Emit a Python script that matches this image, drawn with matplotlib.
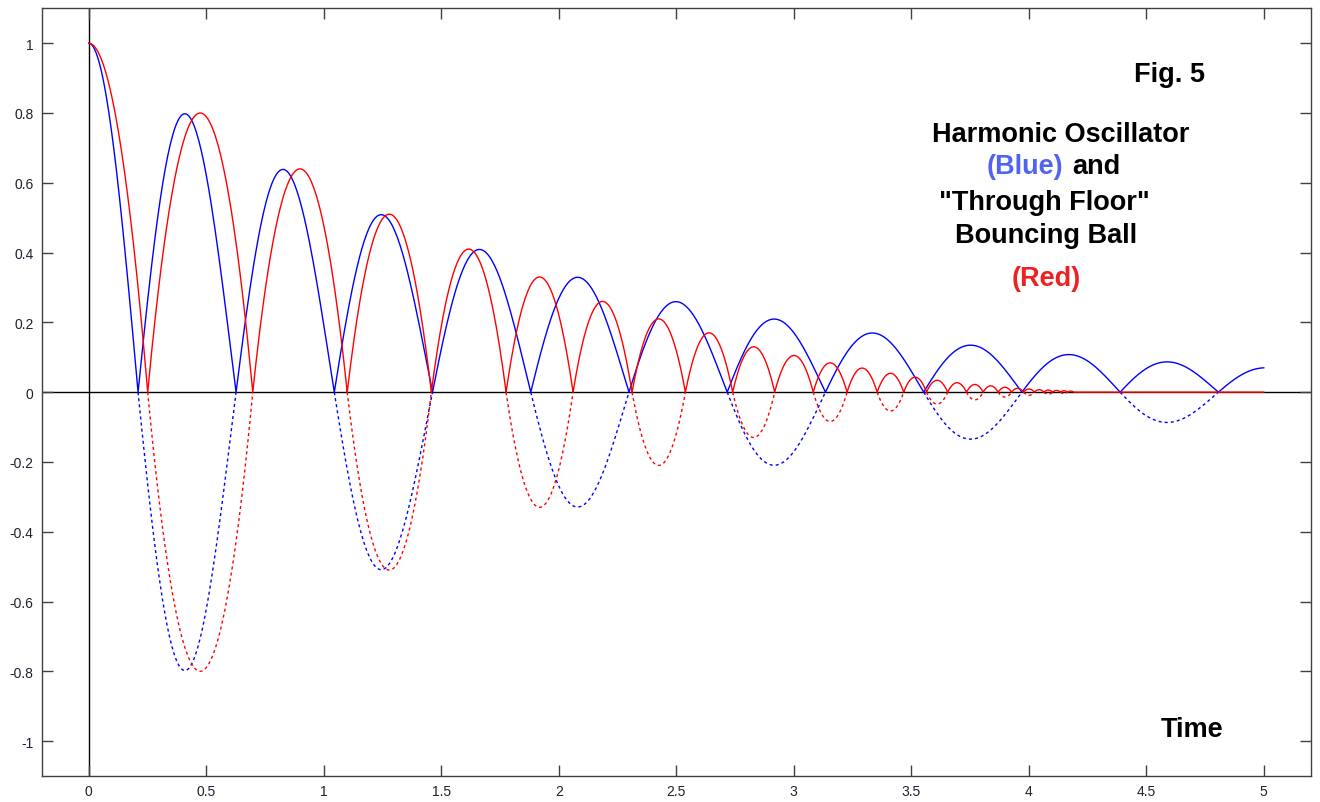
import numpy as np
import matplotlib

matplotlib.use("Agg")
import matplotlib.pyplot as plt

# harmonic oscillator: zero crossings and lobe heights of |x(t)|
blue_start = 1.0
blue_zeros = [0.21, 0.627, 1.045, 1.463, 1.881, 2.299, 2.717, 3.135, 3.553,
              3.971, 4.389, 4.807, 5.225]
blue_peaks = [0.80, 0.64, 0.51, 0.41, 0.33, 0.26, 0.21, 0.17, 0.135, 0.108,
              0.087, 0.07]

# bouncing ball: bounce times and apex heights between bounces
red_start = 1.0
red_bounces = [0.251, 0.698, 1.100, 1.458, 1.776, 2.061, 2.312, 2.539, 2.740,
               2.919, 3.083, 3.227, 3.355, 3.468, 3.565, 3.655, 3.735, 3.806,
               3.870, 3.927, 3.978, 4.024, 4.065, 4.102, 4.135, 4.165, 4.192]
red_peaks = [0.80, 0.64, 0.51, 0.41, 0.33, 0.26, 0.21, 0.17, 0.13, 0.105,
             0.084, 0.069, 0.054, 0.043, 0.034, 0.027, 0.022, 0.018, 0.014,
             0.011, 0.009, 0.007, 0.006, 0.005, 0.004, 0.003]

t_end = 5.0
x_ticks = [0, 0.5, 1, 1.5, 2, 2.5, 3, 3.5, 4, 4.5, 5]
x_labels = ["0", "0.5", "1", "1.5", "2", "2.5", "3", "3.5", "4", "4.5", "5"]
y_ticks = [-1, -0.8, -0.6, -0.4, -0.2, 0, 0.2, 0.4, 0.6, 0.8, 1]
y_labels = ["-1", "-0.8", "-0.6", "-0.4", "-0.2", "0", "0.2", "0.4", "0.6", "0.8", "1"]

BLUE = "#0000ff"
RED = "#ff0000"
DAMP = 0.223  # log decay of the oscillator per half period


def sine_lobe(a, b, h):
    t = np.linspace(a, min(b, t_end), 80)
    u = (t - a) / (b - a)
    # damping inside the half period pulls the crest slightly earlier
    return t, h * np.sin(np.pi * u) * np.exp(-DAMP * (u - 0.477))


def parabola_lobe(a, b, h):
    t = np.linspace(a, b, 80)
    mid, half = (a + b) / 2, (b - a) / 2
    return t, h * (1 - ((t - mid) / half) ** 2)


def build(first_t, first_y, edges, peaks, lobe):
    ts, ys, neg = [first_t], [first_y], []
    for i, h in enumerate(peaks):
        a, b = edges[i], edges[i + 1]
        if a >= t_end:
            break
        t, y = lobe(a, b, h)
        ts.append(t)
        ys.append(y)
        if i % 2 == 0:
            neg.append((t, -y))
    return np.concatenate(ts), np.concatenate(ys), neg


fig = plt.figure(figsize=(13.2, 8.03), dpi=100)
ax = fig.add_axes([0.0316, 0.0324, 0.9614, 0.956])

# blue: first quarter wave from the release point
t0 = np.linspace(0, blue_zeros[0], 60)
bt, by, bneg = build(t0, blue_start * np.cos(np.pi / 2 * t0 / blue_zeros[0]),
                     blue_zeros, blue_peaks, sine_lobe)

# red: ball dropped from rest, then parabolic flights
r0 = np.linspace(0, red_bounces[0], 60)
rt, ry, rneg = build(r0, red_start * (1 - (r0 / red_bounces[0]) ** 2),
                     red_bounces, red_peaks, parabola_lobe)
rt = np.append(rt, t_end)
ry = np.append(ry, 0.0)

ax.axhline(0, color="black", lw=1.0, zorder=1)
ax.axvline(0, color="black", lw=1.0, zorder=1)

ax.plot(bt, by, color=BLUE, lw=1.0, zorder=3)
for t, y in bneg:
    ax.plot(t, y, color=BLUE, lw=1.0, ls=(0, (2.2, 2.2)), zorder=3)
ax.plot(rt, ry, color=RED, lw=1.0, zorder=3)
for t, y in rneg:
    ax.plot(t, y, color=RED, lw=1.0, ls=(0, (2.2, 2.2)), zorder=3)

ax.set_xlim(-0.2, 5.2)
ax.set_ylim(-1.1, 1.1)
ax.set_xticks(x_ticks)
ax.set_xticklabels(x_labels)
ax.set_yticks(y_ticks)
ax.set_yticklabels(y_labels)
ax.tick_params(direction="in", length=8, width=1, color="#404040",
               top=True, right=True, labelsize=10, labelcolor="#202030",
               pad=6)
for s in ax.spines.values():
    s.set_color("#404040")
    s.set_linewidth(1)
for lab in ax.get_xticklabels() + ax.get_yticklabels():
    lab.set_family("Liberation Sans")

W, H = 1320, 803


def note(px, py, s, color="black", ha="center"):
    fig.text(px / W, 1 - py / H, s, color=color, ha=ha, va="center",
             fontsize=19.5, fontweight="bold", family="Liberation Sans")


note(1169, 75, "Fig. 5")
note(1061, 135, "Harmonic Oscillator")
note(1063, 167, "(Blue)", color="#5064f0", ha="right")
note(1072, 167, "and", ha="left")
note(1044, 203, '"Through Floor"')
note(1046, 236, "Bouncing Ball")
note(1046, 279, "(Red)", color="#ee2020")
note(1192, 730, "Time")

fig.savefig("out.png", dpi=100)
